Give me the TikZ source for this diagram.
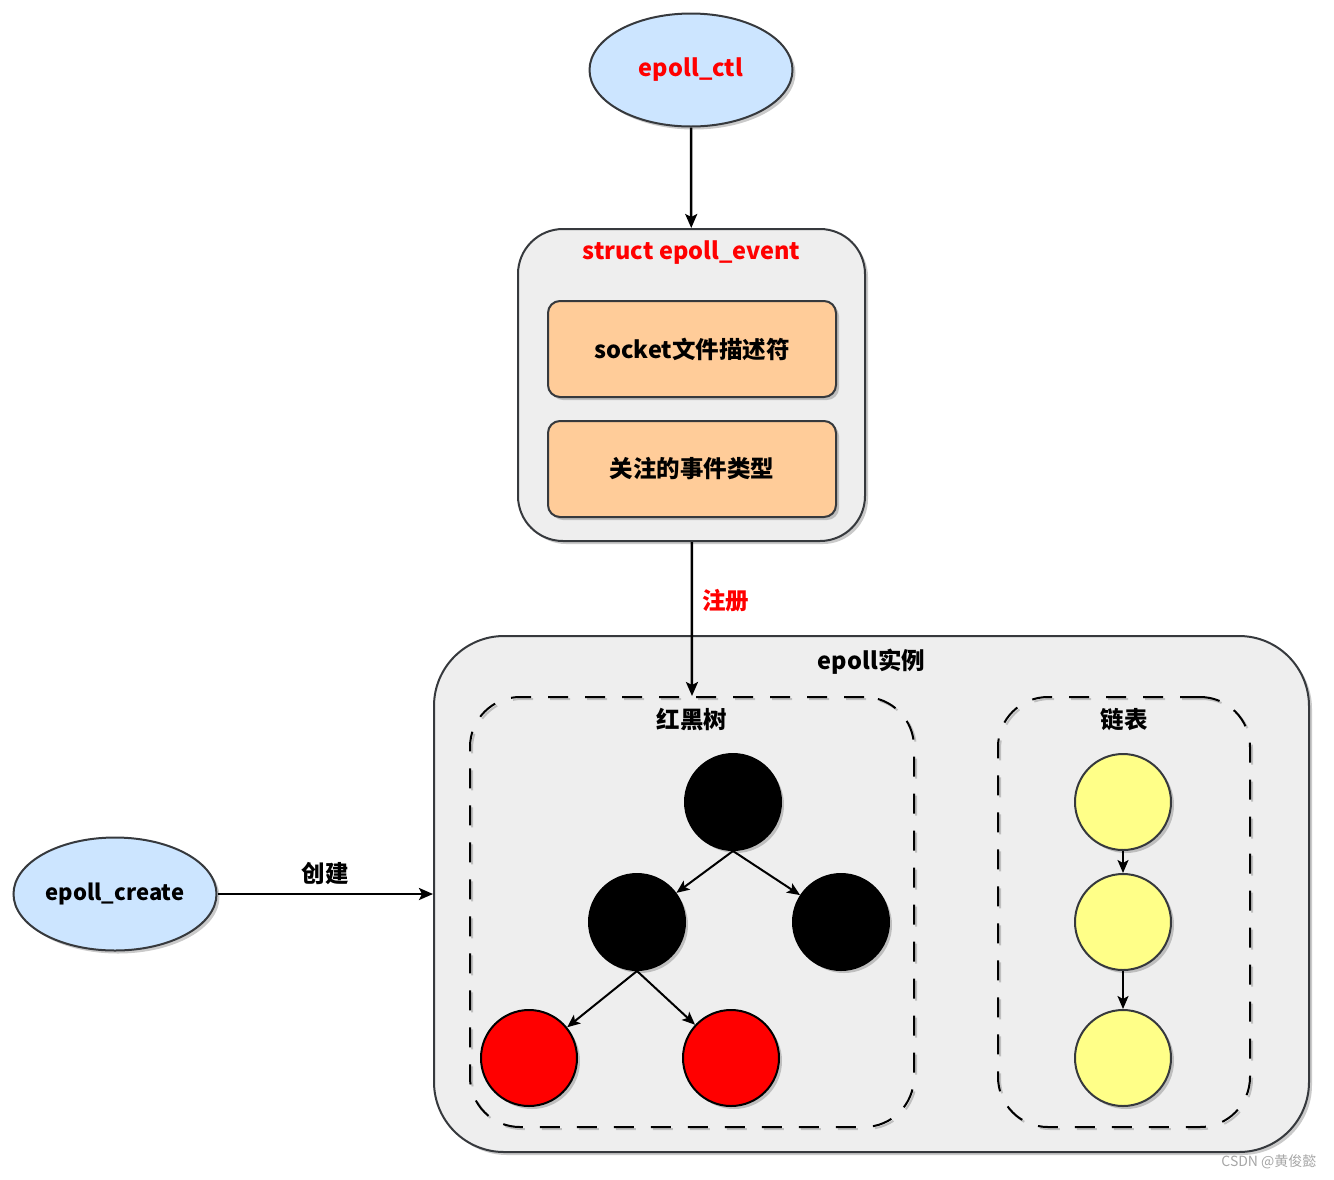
\documentclass[tikz,border=0pt]{standalone}
\usepackage{fontspec}
\setmainfont{Noto Sans CJK SC}
\usetikzlibrary{arrows.meta,shadows,shapes.geometric,positioning}

\definecolor{callblue}{HTML}{CCE5FF}
\definecolor{edgegray}{HTML}{36393D}
\definecolor{panelgray}{HTML}{EEEEEE}
\definecolor{peach}{HTML}{FFCC99}
\definecolor{paleyellow}{HTML}{FFFF88}

\begin{document}
\begin{tikzpicture}[x=1pt,y=-1pt,
  every node/.style={font=\fontsize{23.5}{27}\selectfont\bfseries},
  shade/.style={drop shadow={shadow xshift=3pt,shadow yshift=-3pt,opacity=0.35,fill=black!60}},
  call/.style={ellipse,draw=edgegray,line width=2pt,fill=callblue,minimum width=203pt,minimum height=113pt,inner sep=0pt,shade},
  panel/.style={rectangle,draw=edgegray,line width=2pt,fill=panelgray,shade},
  field/.style={rectangle,rounded corners=12pt,draw=edgegray,line width=2pt,fill=peach,minimum width=288pt,minimum height=96pt,shade},
  group/.style={rectangle,rounded corners=50pt,draw=black,line width=2pt,dash pattern=on 20pt off 17pt,
    preaction={draw=black!25,line width=2pt,dash pattern=on 20pt off 17pt,transform canvas={xshift=2pt,yshift=-2pt}}},
  blacknode/.style={circle,draw=black,line width=2pt,fill=black,minimum size=96pt,shade},
  rednode/.style={circle,draw=black,line width=2pt,fill=red,minimum size=96pt,shade},
  listnode/.style={circle,draw=edgegray,line width=2pt,fill=paleyellow,minimum size=96pt,shade},
  arr/.style={draw=black,line width=2.5pt,-{Stealth[length=14pt,width=12pt,inset=3pt]}},
  thinarr/.style={draw=black,line width=2pt,-{Stealth[length=13pt,width=11pt,inset=3pt]}}]
\useasboundingbox (0,0) rectangle (1334,1179);

% calls
\node[call,text=red] (ctl) at (691,70) {epoll\_ctl};
\node[call,font=\fontsize{22}{26}\selectfont\bfseries] (create) at (115,894) {epoll\_create};

% struct epoll_event
\node[panel,rounded corners=45pt,minimum width=347pt,minimum height=312pt] (event) at (691.5,385) {};
\node[red,below=9pt of event.north] (eventtitle) {struct epoll\_event};
\node[field] (fd) at (692,349) {socket文件描述符};
\node[field] (evtype) at (692,469) {关注的事件类型};

% epoll instance
\node[panel,rounded corners=70pt,minimum width=875pt,minimum height=516pt] (inst) at (871.5,894) {};
\node[below=10pt of inst.north] (insttitle) {epoll实例};
\node[group,minimum width=444pt,minimum height=430pt] (rbt) at (692,912) {};
\node[below=9pt of rbt.north] (rbttitle) {红黑树};
\node[group,minimum width=252pt,minimum height=430pt] (lst) at (1124,912) {};
\node[below=9pt of lst.north] (lsttitle) {链表};

% red-black tree
\node[blacknode] (rb1) at (733,802) {};
\node[blacknode] (rb2) at (637,922) {};
\node[blacknode] (rb3) at (841,922) {};
\node[rednode] (rb4) at (529,1058) {};
\node[rednode] (rb5) at (731,1058) {};
\draw[thinarr] (rb1.south) -- (rb2);
\draw[thinarr] (rb1.south) -- (rb3);
\draw[thinarr] (rb2.south) -- (rb4);
\draw[thinarr] (rb2.south) -- (rb5);

% list
\node[listnode] (ll1) at (1123,802) {};
\node[listnode] (ll2) at (1123,922) {};
\node[listnode] (ll3) at (1123,1058) {};
\draw[thinarr] (ll1) -- (ll2);
\draw[thinarr] (ll2) -- (ll3);

% connectors
\draw[arr] (ctl) -- (event);
\draw[arr] (event) -- (rbt.north) node[pos=0.38,right=6pt,red] (reglabel) {注册};
\draw[arr] (create) -- (inst.west) node[midway,above=5pt] (newlabel) {创建};

\node[font=\fontsize{14}{16}\selectfont,text=black!35,anchor=east] (mark) at (1320,1162) {CSDN @黄俊懿};
\end{tikzpicture}
\end{document}
